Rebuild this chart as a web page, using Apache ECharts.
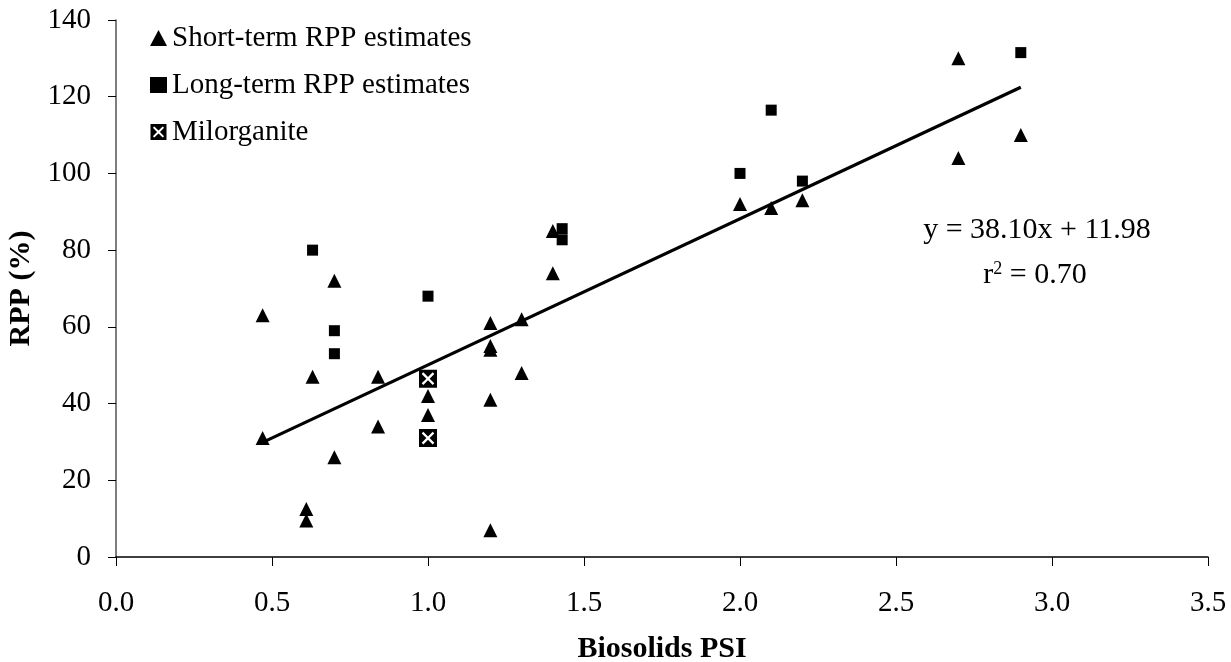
<!DOCTYPE html>
<html>
<head>
<meta charset="utf-8">
<script src="https://cdn.jsdelivr.net/npm/echarts@6/dist/echarts.min.js"></script>
<style>html,body{margin:0;padding:0;background:#fff;}#c{width:1231px;height:662px;}</style>
</head>
<body>
<div id="c"></div>
<script>
// ---- data ----
const shortX = [0.47, 0.47, 0.61, 0.61, 0.63, 0.70, 0.70, 0.84, 0.84, 1.00, 1.00, 1.20, 1.20, 1.20, 1.20, 1.20, 1.30, 1.30, 1.40, 1.40, 2.00, 2.10, 2.20, 2.70, 2.70, 2.90];
const shortY = [63, 31, 12.5, 9.5, 47, 72, 26, 47, 34, 42, 37, 61, 55, 54, 41, 7, 62, 48, 85, 74, 92, 91, 93, 130, 104, 110];
const longX = [0.63, 0.70, 0.70, 1.00, 1.43, 1.43, 2.00, 2.10, 2.20, 2.90];
const longY = [80, 59, 53, 68, 85.6, 82.7, 100, 116.5, 98, 131.5];
const miloX = [1.00, 1.00];
const miloY = [46.5, 31];
const fitSlope = 38.10;
const fitIntercept = 11.98;
const fitRange = [0.47, 2.90];
const r2 = '0.70';
const xTicks = ['0.0', '0.5', '1.0', '1.5', '2.0', '2.5', '3.0', '3.5'];
const seriesNames = ['Short-term RPP estimates', 'Long-term RPP estimates', 'Milorganite'];

const zip = (xs, ys) => xs.map((x, i) => [x, ys[i]]);
const fitData = fitRange.map(x => [x, fitSlope * x + fitIntercept]);

// Black square with white X (X cut out as a hole, opposite winding)
const a = 9;
const xHole = [
  [15, 15 + a], [15 + a, 15], [50, 50 - a], [85 - a, 15], [85, 15 + a], [50 + a, 50],
  [85, 85 - a], [85 - a, 85], [50, 50 + a], [15 + a, 85], [15, 85 - a], [50 - a, 50]
].reverse();
const miloPath = 'path://M0,0L100,0L100,100L0,100Z' +
  'M' + xHole.map(p => p.join(',')).join('L') + 'Z';

const FONT = '"Liberation Serif", "Times New Roman", serif';

const chart = echarts.init(document.getElementById('c'), null, {renderer: 'canvas'});
chart.setOption({
  animation: false,
  backgroundColor: '#fff',
  textStyle: {fontFamily: FONT, color: '#000'},
  grid: {left: 116, right: 23, top: 20, bottom: 105, containLabel: false, outerBoundsMode: 'none'},
  legend: {
    orient: 'vertical',
    left: 145,
    top: 18,
    itemWidth: 17,
    itemHeight: 16,
    itemGap: 17,
    textStyle: {fontFamily: FONT, fontSize: 29, lineHeight: 30, color: '#000'},
    data: [
      {name: seriesNames[0], icon: 'triangle'},
      {name: seriesNames[1], icon: 'rect'},
      {name: seriesNames[2], icon: miloPath}
    ]
  },
  xAxis: {
    type: 'value',
    min: 0, max: 3.5, interval: 0.5,
    name: 'Biosolids PSI',
    nameLocation: 'middle',
    nameGap: 77,
    nameTextStyle: {fontFamily: FONT, fontSize: 30, fontWeight: 'bold', color: '#000'},
    axisLine: {show: true, onZero: false, lineStyle: {color: '#000', width: 1.5}},
    axisTick: {show: true, inside: false, length: 9, lineStyle: {color: '#000', width: 1}},
    axisLabel: {fontFamily: FONT, fontSize: 29, color: '#000', margin: 32,
      formatter: v => xTicks[Math.round(v / 0.5)]},
    splitLine: {show: false}
  },
  yAxis: {
    type: 'value',
    min: 0, max: 140, interval: 20,
    name: 'RPP (%)',
    nameLocation: 'middle',
    nameGap: 73,
    nameTextStyle: {fontFamily: FONT, fontSize: 30, fontWeight: 'bold', color: '#000'},
    axisLine: {show: true, lineStyle: {color: '#555', width: 1.5}},
    axisTick: {show: true, inside: false, length: 8, lineStyle: {color: '#000', width: 1}},
    axisLabel: {fontFamily: FONT, fontSize: 29, color: '#000', margin: 25},
    splitLine: {show: false}
  },
  series: [
    {
      name: 'fit', type: 'line', data: fitData, symbol: 'none',
      lineStyle: {color: '#000', width: 3.2}, z: 1, silent: true
    },
    {
      name: seriesNames[0], type: 'scatter', data: zip(shortX, shortY),
      symbol: 'triangle', symbolSize: 14, itemStyle: {color: '#000', opacity: 1}, z: 3
    },
    {
      name: seriesNames[1], type: 'scatter', data: zip(longX, longY),
      symbol: 'rect', symbolSize: 11, itemStyle: {color: '#000', opacity: 1}, z: 3
    },
    {
      name: seriesNames[2], type: 'scatter', data: zip(miloX, miloY),
      symbol: miloPath, symbolSize: 18, itemStyle: {color: '#000', opacity: 1}, z: 4
    }
  ],
  graphic: [
    {
      type: 'text',
      style: {
        text: 'y = 38.10x + 11.98',
        fontFamily: FONT, fontSize: 30, fill: '#000',
        align: 'center', verticalAlign: 'middle',
        x: 1037, y: 230
      }
    },
    {
      type: 'text',
      style: {
        text: '{b|r}{s|2}{b| = ' + r2 + '}',
        fontFamily: FONT, fontSize: 30, fill: '#000',
        align: 'center', verticalAlign: 'middle',
        x: 1035, y: 275,
        rich: {
          b: {fontFamily: FONT, fontSize: 30, lineHeight: 30, fill: '#000'},
          s: {fontFamily: FONT, fontSize: 18, lineHeight: 30, fill: '#000', verticalAlign: 'top', padding: [0, 0, 12, 0]}
        }
      }
    }
  ]
});
</script>
</body>
</html>
